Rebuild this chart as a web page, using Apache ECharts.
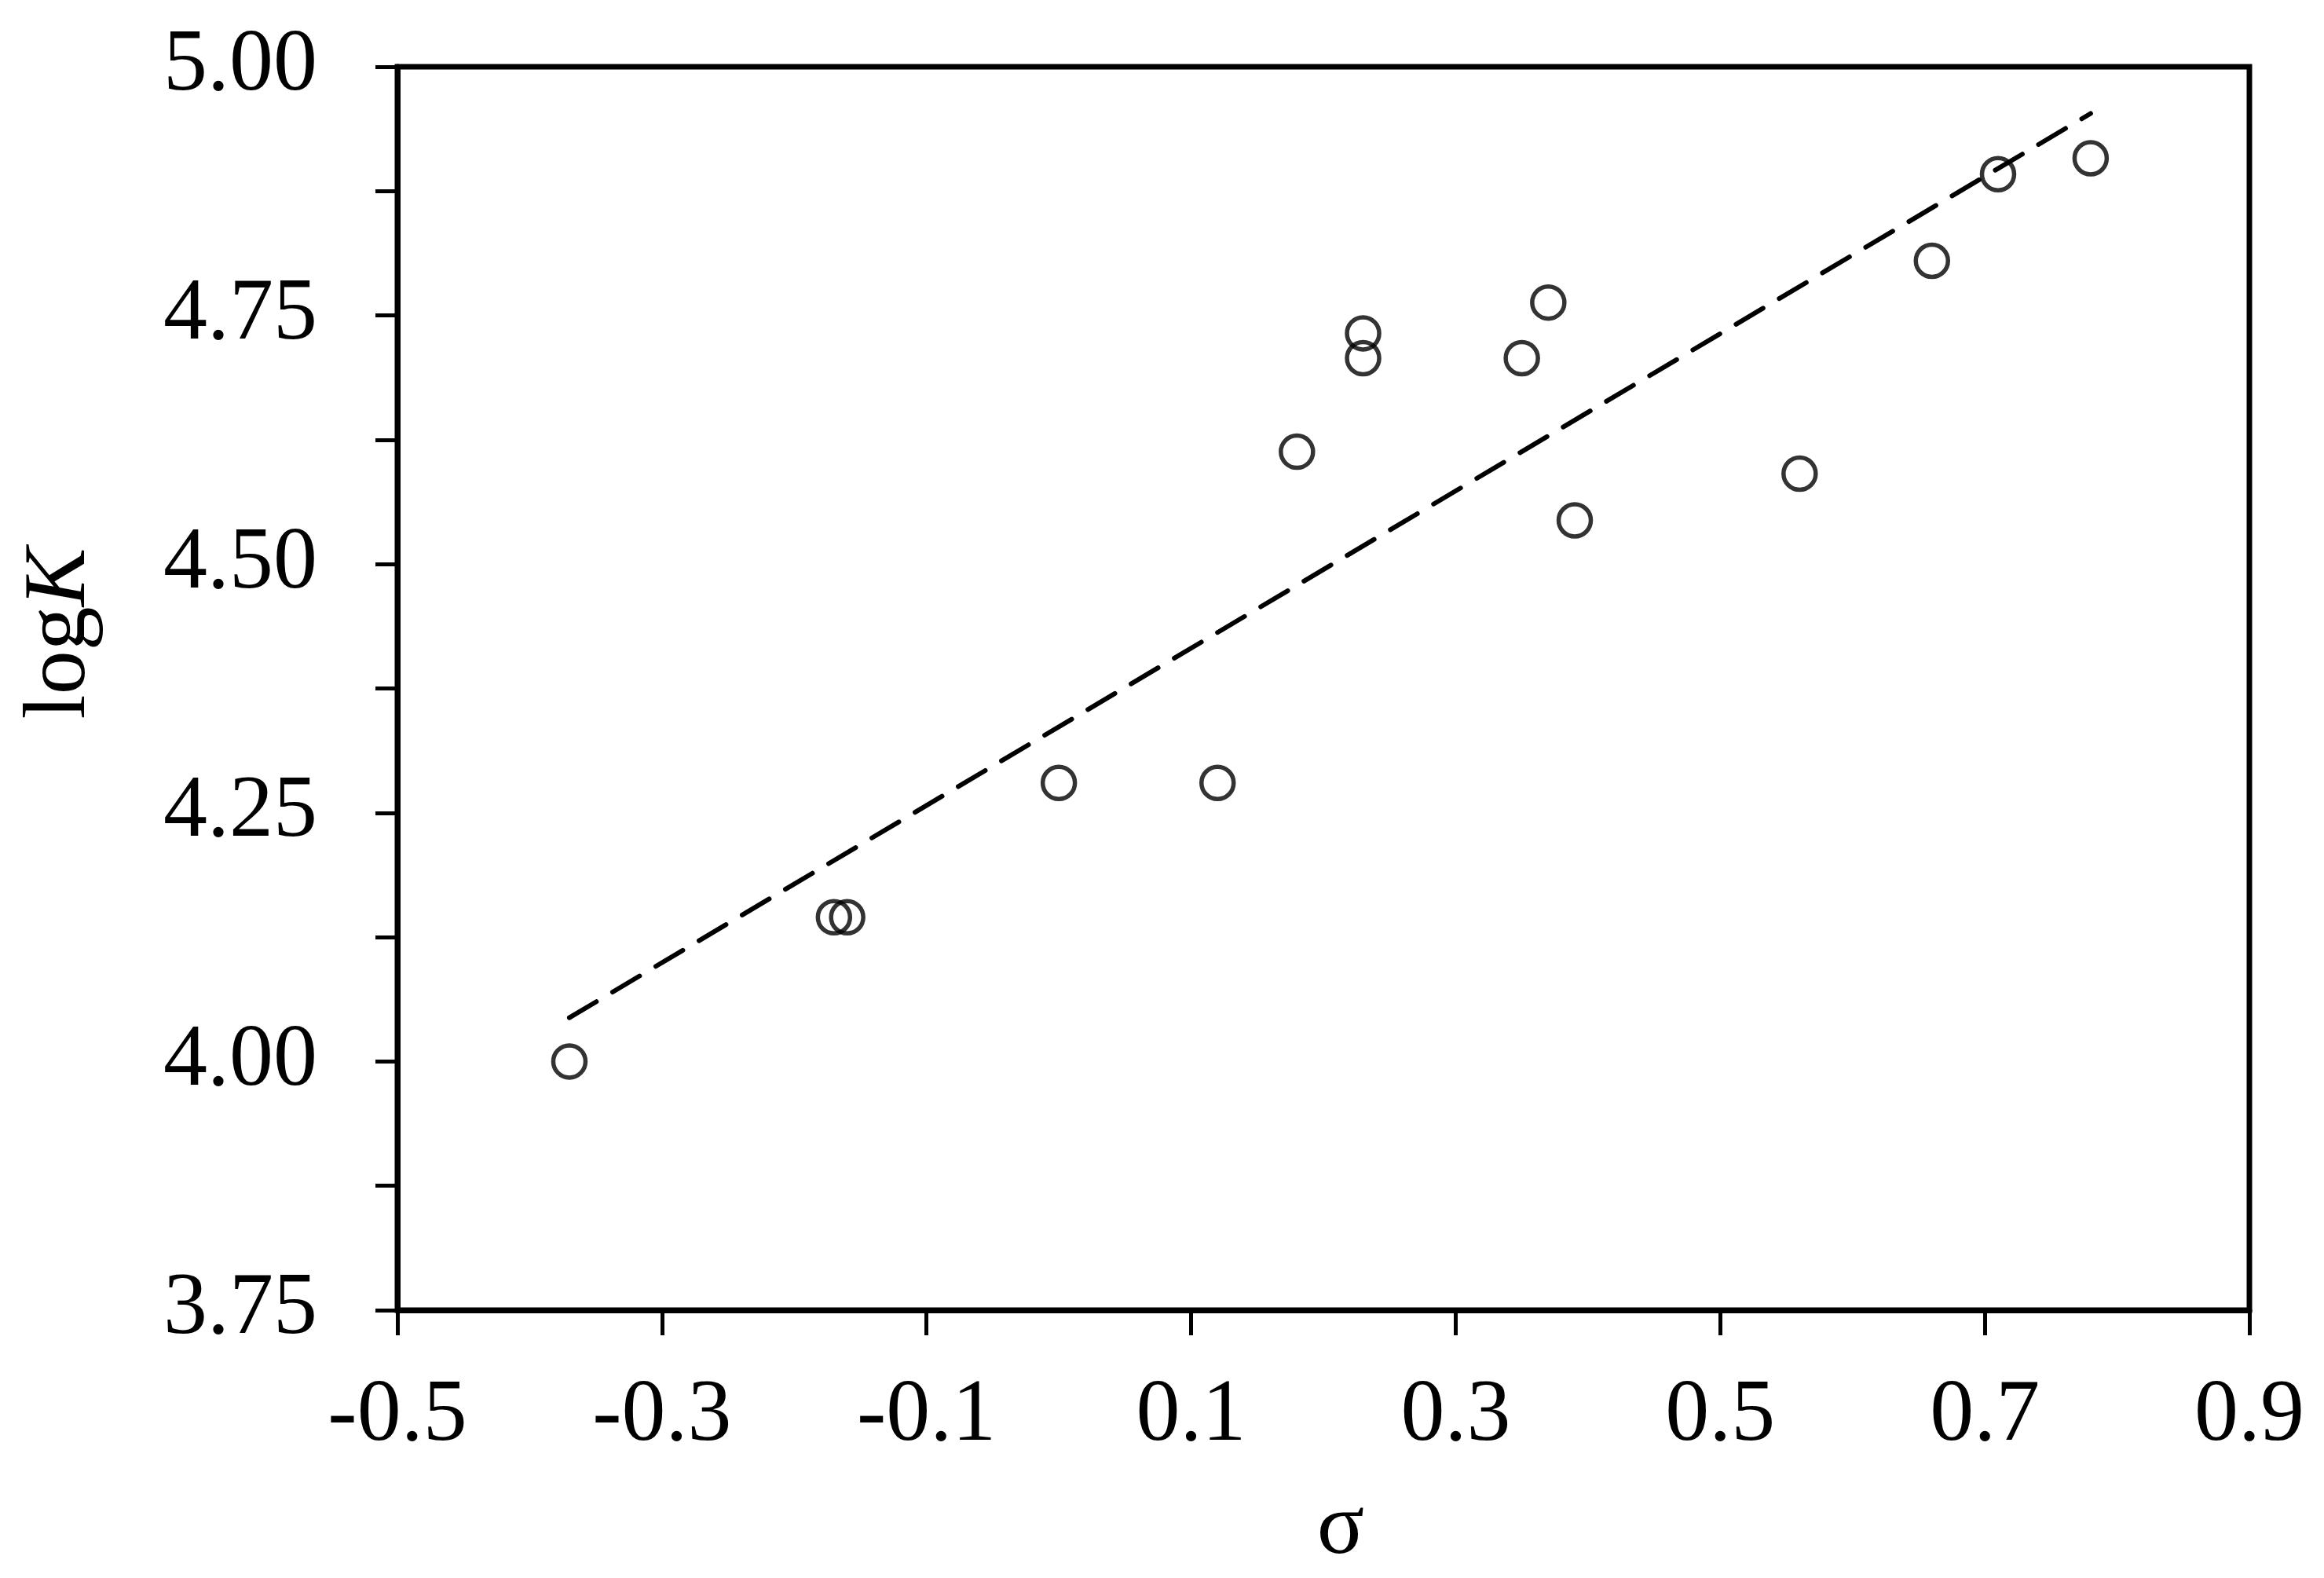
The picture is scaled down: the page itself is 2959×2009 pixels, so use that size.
<!DOCTYPE html>
<html>
<head>
<meta charset="utf-8">
<script src="https://cdn.jsdelivr.net/npm/echarts@6/dist/echarts.min.js"></script>
<style>
  html, body { margin: 0; padding: 0; background: #fff; }
  #chart { width: 2959px; height: 2009px; }
</style>
</head>
<body>
<div id="chart"></div>
<script>
  // sigma values and logK
  var sigma = [-0.37, -0.17, -0.16, 0.00, 0.12, 0.18, 0.23, 0.23, 0.35, 0.37, 0.39, 0.56, 0.66, 0.71, 0.78]
  var logK = [4.00, 4.145, 4.145, 4.28, 4.28, 4.613, 4.732, 4.707, 4.707, 4.763, 4.544, 4.591, 4.805, 4.892, 4.908]
  // dashed fit line ends
  var fitX = [-0.37, 0.78]
  var fitY = [4.044, 4.953]

  var font = 'Liberation Serif'
  var black = '#000'

  var points = sigma.map(function (x, i) { return [x, logK[i]] })
  var fit = fitX.map(function (x, i) { return [x, fitY[i]] })

  var chart = echarts.init(document.getElementById('chart'))
  var option = {
    animation: false,
    backgroundColor: '#fff',
    grid: {
      left: 506,
      right: 95,
      top: 85,
      bottom: 334,
      show: true,
      borderColor: black,
      borderWidth: 7,
      backgroundColor: 'transparent'
    },
    xAxis: {
      type: 'value',
      min: -0.5,
      max: 0.9,
      interval: 0.2,
      name: 'σ',
      nameLocation: 'middle',
      nameGap: 224,
      nameTextStyle: {
        fontFamily: font,
        fontSize: 112,
        color: black,
        padding: [0, 0, 0, 44]
      },
      axisLine: { show: true, onZero: false, lineStyle: { color: black, width: 7 } },
      axisTick: { show: true, length: 32, lineStyle: { color: black, width: 5 } },
      axisLabel: {
        margin: 80,
        fontFamily: font,
        fontSize: 112,
        color: black,
        formatter: function (v) { return v.toFixed(1) }
      },
      splitLine: { show: false }
    },
    yAxis: {
      type: 'value',
      min: 3.75,
      max: 5.0,
      interval: 0.25,
      name: '{a|log}{b|K}',
      nameLocation: 'middle',
      nameGap: 372,
      nameTextStyle: {
        fontFamily: font,
        fontSize: 112,
        color: black,
        padding: [0, 0, 0, 140],
        rich: {
          a: { fontFamily: font, fontSize: 112, color: black },
          b: { fontFamily: font, fontSize: 112, color: black, fontStyle: 'italic' }
        }
      },
      axisLine: { show: true, onZero: false, lineStyle: { color: black, width: 7 } },
      axisTick: { show: true, length: 28, lineStyle: { color: black, width: 5 } },
      minorTick: { show: true, splitNumber: 2, length: 28, lineStyle: { color: black, width: 5 } },
      axisLabel: {
        margin: 102,
        fontFamily: font,
        fontSize: 112,
        color: black,
        formatter: function (v) { return v.toFixed(2) }
      },
      splitLine: { show: false },
      minorSplitLine: { show: false }
    },
    series: [
      {
        type: 'line',
        data: fit,
        showSymbol: false,
        symbol: 'none',
        silent: true,
        lineStyle: { color: black, width: 6, type: [40, 24], cap: 'round' },
        z: 2
      },
      {
        type: 'scatter',
        data: points,
        symbol: 'circle',
        symbolSize: 41,
        itemStyle: { color: 'rgba(0,0,0,0)', borderColor: black, borderWidth: 5.5 },
        z: 3
      }
    ]
  }
  chart.setOption(option)
</script>
</body>
</html>
